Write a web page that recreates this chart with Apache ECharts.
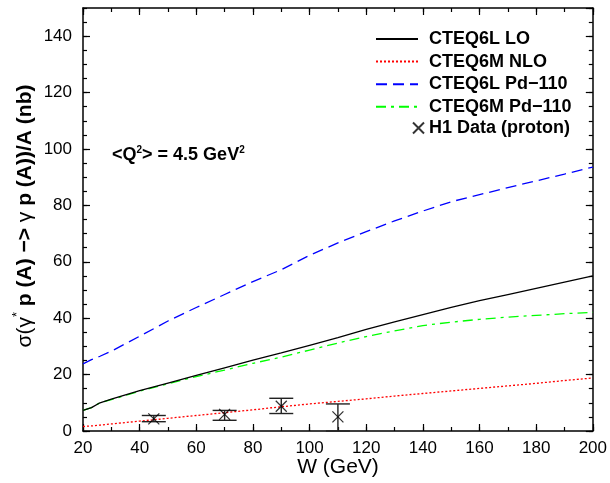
<!DOCTYPE html>
<html>
<head>
<meta charset="utf-8">
<script src="https://cdn.jsdelivr.net/npm/echarts@6/dist/echarts.min.js"></script>
<style>html,body{margin:0;padding:0;background:#fff;}#c{width:610px;height:483px;}</style>
</head>
<body>
<div id="c"></div>
<script>
var W = [20, 23, 26, 30, 40, 50, 60, 70, 80, 90, 100, 110, 120, 130, 140, 150, 160, 170, 180, 190, 200];
var lo6L = [7.3, 8.3, 10.0, 11.3, 14.3, 17.0, 19.7, 22.4, 25.1, 27.7, 30.4, 33.1, 36.0, 38.7, 41.3, 43.8, 46.2, 48.4, 50.6, 52.8, 55.0];
var nlo6M = [1.6, 1.8, 2.1, 2.5, 3.5, 4.5, 5.5, 6.5, 7.5, 8.6, 9.6, 10.5, 11.4, 12.4, 13.3, 14.2, 15.1, 16.0, 16.9, 17.9, 18.8];
var pd6L = [23.8, 25.3, 26.5, 28.3, 33.6, 39.0, 43.8, 48.4, 53.0, 57.2, 62.3, 66.7, 70.7, 74.5, 78.0, 81.3, 83.8, 86.3, 88.7, 91.1, 93.6];
var pd6M = [7.3, 8.3, 10.0, 11.1, 14.1, 16.7, 19.3, 21.6, 24.0, 26.2, 28.7, 31.2, 33.5, 35.5, 37.4, 38.6, 39.6, 40.4, 41.0, 41.6, 42.1];
var h1W = [45, 70, 90, 110];
var h1Val = [4.3, 5.9, 8.8, 5.0];
var h1Low = [3.3, 3.8, 6.2, 0.0];
var h1High = [5.5, 7.3, 11.6, 9.6];
var seriesNames = ['CTEQ6L LO', 'CTEQ6M NLO', 'CTEQ6L Pd\u2212110', 'CTEQ6M Pd\u2212110', 'H1 Data (proton)'];
var xTicks = [20, 200, 20];
var yTicks = [0, 150, 20];

function pairs(xs, ys) { return xs.map(function (x, i) { return [x, ys[i]]; }); }

var FONT = '"Liberation Sans", Arial, Helvetica, sans-serif';
var chart = echarts.init(document.getElementById('c'), null, {renderer: 'canvas'});

function xAx(pos, showLabel, interval, len, showLine) {
  return {
    type: 'value', position: pos, min: xTicks[0], max: xTicks[1], interval: interval,
    axisLine: {show: showLine, onZero: false, lineStyle: {color: '#000', width: 1.5}},
    axisTick: {show: true, inside: true, length: len, lineStyle: {color: '#000', width: 1.2}},
    minorTick: {show: false},
    splitLine: {show: false},
    axisLabel: {show: showLabel, color: '#000', fontSize: 17, fontFamily: FONT, margin: 9}
  };
}
function yAx(pos, showLabel, interval, len, showLine) {
  return {
    type: 'value', position: pos, min: yTicks[0], max: yTicks[1], interval: interval,
    axisLine: {show: showLine, onZero: false, lineStyle: {color: '#000', width: 1.5}},
    axisTick: {show: true, inside: true, length: len, lineStyle: {color: '#000', width: 1.2}},
    minorTick: {show: false},
    splitLine: {show: false},
    axisLabel: {show: showLabel, color: '#000', fontSize: 17, fontFamily: FONT, margin: 11, showMaxLabel: false}
  };
}

var LEGEND_TEXT = {fontSize: 18, fontWeight: 'bold', fontFamily: FONT, color: '#000'};

var option = {
  animation: false,
  backgroundColor: '#fff',
  grid: {left: 83, right: 16, top: 8, bottom: 52, containLabel: false},
  xAxis: [
    xAx('bottom', true, xTicks[2], 7, true),
    xAx('bottom', false, 10, 4, false),
    xAx('top', false, xTicks[2], 7, true),
    xAx('top', false, 10, 4, false)
  ],
  yAxis: [
    yAx('left', true, yTicks[2], 7, true),
    yAx('left', false, 5, 4, false),
    yAx('right', false, yTicks[2], 7, true),
    yAx('right', false, 5, 4, false)
  ],
  legend: [{
    data: seriesNames.slice(0, 4),
    orient: 'vertical', left: 375, top: 30, itemWidth: 42, itemHeight: 14, itemGap: 4.6, padding: 0,
    itemStyle: {color: 'rgba(0,0,0,0)', borderWidth: 0, opacity: 0},
    textStyle: Object.assign({padding: [0, 0, 0, 6]}, LEGEND_TEXT),
    selectedMode: false
  }, {
    data: [seriesNames[4]],
    orient: 'vertical', left: 412, top: 119, itemWidth: 11, itemHeight: 11, padding: 0,
    textStyle: LEGEND_TEXT,
    selectedMode: false
  }],
  series: [
    {name: seriesNames[0], type: 'line', data: pairs(W, lo6L), symbol: 'none', z: 5,
     lineStyle: {color: '#000', width: 1.3, type: 'solid'}, itemStyle: {color: '#000'}},
    {name: seriesNames[1], type: 'line', data: pairs(W, nlo6M), symbol: 'none',
     lineStyle: {color: '#ff0000', width: 1.3, type: [2, 2]}, itemStyle: {color: '#ff0000'}},
    {name: seriesNames[2], type: 'line', data: pairs(W, pd6L), symbol: 'none',
     lineStyle: {color: '#0000ff', width: 1.3, type: [11, 6]}, itemStyle: {color: '#0000ff'}},
    {name: seriesNames[3], type: 'line', data: pairs(W, pd6M), symbol: 'none',
     lineStyle: {color: '#00ff00', width: 1.3, type: [10, 5, 3, 5]}, itemStyle: {color: '#00ff00'}},
    {name: 'errbars', type: 'custom', z: 6,
     data: h1W.map(function (w, i) { return [w, h1Low[i], h1High[i]]; }),
     renderItem: function (params, api) {
       var lo = api.coord([api.value(0), api.value(1)]);
       var hi = api.coord([api.value(0), api.value(2)]);
       var hw = 12;
       var st = {stroke: '#222', lineWidth: 1.4};
       return {type: 'group', children: [
         {type: 'line', shape: {x1: lo[0], y1: lo[1], x2: hi[0], y2: hi[1]}, style: st},
         {type: 'line', shape: {x1: lo[0] - hw, y1: lo[1], x2: lo[0] + hw, y2: lo[1]}, style: st},
         {type: 'line', shape: {x1: hi[0] - hw, y1: hi[1], x2: hi[0] + hw, y2: hi[1]}, style: st}
       ]};
     }},
    {name: seriesNames[4], type: 'scatter', data: pairs(h1W, h1Val), z: 7,
     symbol: 'path://M0,0L10,10M10,0L0,10', symbolSize: 11,
     itemStyle: {color: 'rgba(0,0,0,0)', borderColor: '#000', borderWidth: 1.3}}
  ],
  graphic: [
    {type: 'text', left: 112, top: 145,
     style: {
       text: '{b|<Q}{s|2}{b|> = 4.5 GeV}{s|2}',
       rich: {
         b: {fontSize: 18, fontWeight: 'bold', fontFamily: FONT, fill: '#000', lineHeight: 21},
         s: {fontSize: 10, fontWeight: 'bold', fontFamily: FONT, fill: '#000', lineHeight: 21, padding: [0, 0, 10, 0]}
       }
     }},
    {type: 'text', x: 338, y: 467,
     style: {text: 'W (GeV)', font: '21px ' + FONT, fill: '#000', align: 'center', verticalAlign: 'middle'}},
    {type: 'text', x: 25, y: 216, rotation: Math.PI / 2,
     style: {
       text: '{r|\u03c3(\u03b3}{s|*}{b| p (A) \u2212> }{r|\u03b3}{b| p (A))/A (nb)}',
       align: 'center', verticalAlign: 'middle',
       rich: {
         r: {fontSize: 21, fontFamily: FONT, fill: '#000', lineHeight: 26},
         b: {fontSize: 21, fontWeight: 'bold', fontFamily: FONT, fill: '#000', lineHeight: 26},
         s: {fontSize: 13, fontFamily: FONT, fill: '#000', lineHeight: 26, padding: [0, 0, 15, 0]}
       }
     }}
  ]
};
chart.setOption(option);
</script>
</body>
</html>
